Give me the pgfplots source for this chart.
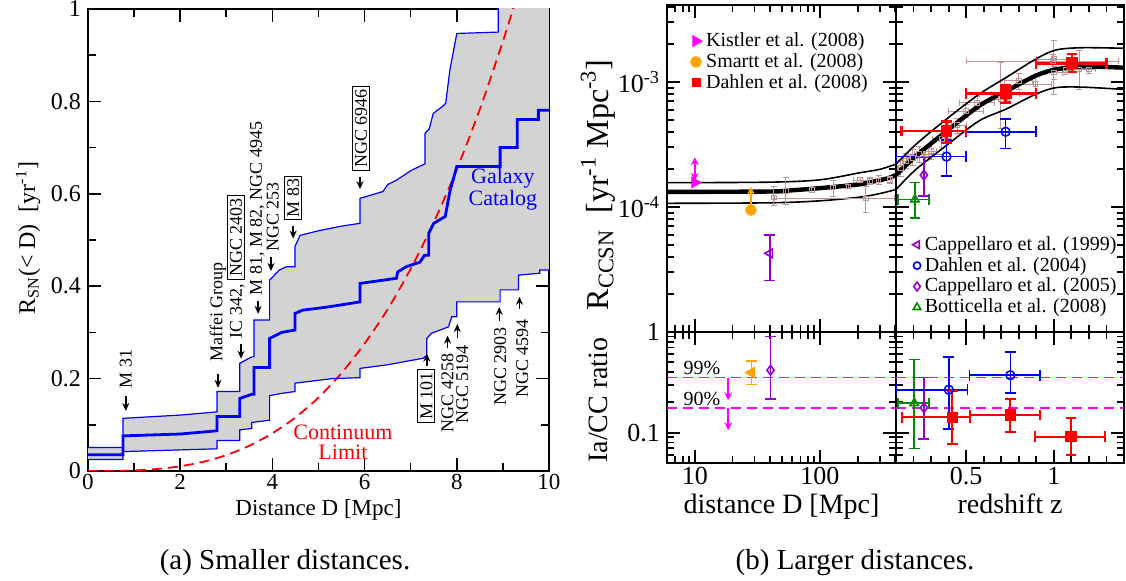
\documentclass[border=0pt]{standalone}
\usepackage{fontspec}
\setmainfont{Liberation Serif}
\usepackage{pgfplots}
\usepackage{pgfplotstable}
\pgfplotsset{compat=1.18}
\usetikzlibrary{arrows.meta}
\definecolor{sblue}{RGB}{0,0,255}
\definecolor{sred}{RGB}{255,0,0}
\definecolor{rb}{RGB}{190,148,148}
\definecolor{sorange}{RGB}{255,165,0}
\definecolor{smag}{RGB}{255,0,255}
\definecolor{spurp}{RGB}{148,0,211}
\definecolor{sgreen}{RGB}{0,139,0}
\definecolor{fillgray}{RGB}{211,211,211}
\setlength{\fboxsep}{1pt}
\setlength{\fboxrule}{0.5pt}
\newcommand{\ann}{\fontsize{9}{9}\selectfont}
\tikzset{arr/.style={-{Stealth[length=4pt,width=3.5pt]}, line width=0.7pt, black}}
\pgfplotsset{
  /pgf/number format/assume math mode=true,
  rp/.style={scale only axis, tick align=inside,
    major tick length=6.5pt, minor tick length=3.5pt,
    axis line style={line width=1.2pt},
    tick style={black, line width=0.9pt},
    ticklabel style={font=\fontsize{13}{13}\selectfont},
    xticklabel style={inner sep=1pt, yshift=-1pt},
    xtick pos=both, ytick pos=both},
  ebxy/.style={error bars/.cd, x dir=both, x explicit, y dir=both, y explicit,
    error bar style={line width=#1}, error mark options={rotate=90, mark size=2.7pt, line width=#1}},
  eby/.style={error bars/.cd, y dir=both, y explicit,
    error bar style={line width=#1}, error mark options={rotate=90, mark size=2.7pt, line width=#1}},
}
% ---------- left panel data ----------
\pgfplotstableread{
x y
0 0.051
0.76 0.051
0.76 0.114
2.0 0.121
2.8 0.128
2.8 0.172
3.29 0.172
3.29 0.233
3.55 0.247
3.6 0.247
3.6 0.327
3.94 0.327
3.94 0.413
4.15 0.435
4.3 0.442
4.49 0.442
4.49 0.486
4.6 0.51
5.0 0.52
5.5 0.53
5.9 0.536
5.9 0.59
6.4 0.605
6.5 0.62
6.7 0.63
7.0 0.65
7.31 0.665
7.31 0.731
7.4 0.74
7.49 0.774
7.7 0.79
7.76 0.796
7.85 0.868
8.0 0.947
8.9 0.95
8.9 1.05
10 1.1
}\tabUp
\pgfplotstableread{
x y
0 0.025
0.76 0.025
0.76 0.042
2.8 0.048
2.8 0.066
3.29 0.066
3.29 0.089
3.55 0.092
3.55 0.105
3.94 0.11
3.94 0.163
4.2 0.168
4.49 0.172
4.49 0.19
5.3 0.20
5.9 0.202
5.9 0.222
6.5 0.23
7.27 0.244
7.35 0.25
7.35 0.287
7.45 0.298
7.82 0.312
7.89 0.334
8.0 0.334
8.0 0.366
8.94 0.366
8.94 0.392
9.34 0.392
9.34 0.424
9.8 0.428
9.8 0.435
10 0.435
}\tabLo
\pgfplotstableread{
x y
0 0.035
0.76 0.035
0.76 0.076
2.0 0.080
2.8 0.087
2.8 0.118
3.29 0.118
3.29 0.157
3.55 0.166
3.6 0.166
3.6 0.224
3.94 0.224
3.94 0.287
4.2 0.300
4.49 0.305
4.49 0.341
4.65 0.348
5.2 0.355
5.9 0.366
5.9 0.406
6.69 0.417
6.72 0.431
6.9 0.442
7.2 0.452
7.3 0.467
7.39 0.467
7.39 0.514
7.5 0.536
7.75 0.551
7.85 0.605
8.0 0.659
8.94 0.659
8.94 0.700
9.31 0.700
9.31 0.761
9.77 0.761
9.77 0.781
10 0.781
}\tabMid
\begin{document}
\begin{tikzpicture}
\useasboundingbox (0,0) rectangle (563pt,290.5pt);
% ================= LEFT PANEL =================
\begin{axis}[
  at={(44pt,55pt)}, anchor=south west, scale only axis,
  width=230.5pt, height=231pt,
  xmin=0, xmax=10, ymin=0, ymax=1,
  xtick={0,2,4,6,8,10}, xticklabels={0,2,4,6,8,10},
  minor xtick={1,3,5,7,9},
  ytick={0,0.2,0.4,0.6,0.8,1}, yticklabels={0,0.2,0.4,0.6,0.8,1},
  minor ytick={0.1,0.3,0.5,0.7,0.9},
  tick align=inside, major tick length=6.5pt, minor tick length=3.8pt,
  axis line style={line width=1pt}, tick style={black, line width=0.8pt},
  ticklabel style={font=\fontsize{12}{12}\selectfont},
  xticklabel style={inner sep=1pt, yshift=-0.5pt, font=\fontsize{11.5}{11.5}\selectfont},
  xtick pos=both, ytick pos=both,
  xlabel={Distance D [Mpc]},
  xlabel style={at={([yshift=-22.5pt]axis description cs:0.5,0)}, anchor=base, inner sep=0pt, font=\fontsize{11.5}{11.5}\selectfont},
  ylabel={R\textsubscript{SN}(< D)\ \ [yr\textsuperscript{-1}]},
  ylabel style={at={([xshift=-30pt]axis description cs:0,0.504)}, anchor=center, font=\fontsize{12}{12}\selectfont},
]
\addplot[fill=fillgray, draw=none, forget plot] coordinates {
(0,0.051) (0.76,0.051) (0.76,0.114) (2.0,0.121) (2.8,0.128) (2.8,0.172) (3.29,0.172) (3.29,0.233)
(3.55,0.247) (3.6,0.247) (3.6,0.327) (3.94,0.327) (3.94,0.413) (4.15,0.435) (4.3,0.442) (4.49,0.442)
(4.49,0.486) (4.6,0.51) (5.0,0.52) (5.5,0.53) (5.9,0.536) (5.9,0.59) (6.4,0.605) (6.5,0.62) (6.7,0.63)
(7.0,0.65) (7.31,0.665) (7.31,0.731) (7.4,0.74) (7.49,0.774) (7.7,0.79) (7.76,0.796) (7.85,0.868)
(8.0,0.947) (8.9,0.95) (8.9,1.05) (10,1.1)
(10,0.435) (9.8,0.435) (9.8,0.428) (9.34,0.424) (9.34,0.392) (8.94,0.392) (8.94,0.366) (8.0,0.366)
(8.0,0.334) (7.89,0.334) (7.82,0.312) (7.45,0.298) (7.35,0.287) (7.35,0.25) (7.27,0.244) (6.5,0.23)
(5.9,0.222) (5.9,0.202) (5.3,0.20) (4.49,0.19) (4.49,0.172) (4.2,0.168) (3.94,0.163) (3.94,0.11)
(3.55,0.105) (3.55,0.092) (3.29,0.089) (3.29,0.066) (2.8,0.066) (2.8,0.048) (0.76,0.042) (0.76,0.025) (0,0.025)
} -- cycle;
\addplot[sred, line width=0.9pt, dash pattern=on 5pt off 3pt, smooth] coordinates {
 (0,0) (0.5,0.00016) (1,0.00128) (1.5,0.0043) (2,0.0102) (2.5,0.0199) (3,0.0344) (3.5,0.0547)
 (4,0.0816) (4.5,0.116) (5,0.159) (5.5,0.212) (6,0.276) (6.5,0.350) (7,0.4375) (7.5,0.538)
 (8,0.653) (8.5,0.783) (9,0.930) (9.22,1.0) (9.4,1.06)};
\addplot[sblue, line width=0.6pt] table {\tabUp};
\addplot[sblue, line width=0.6pt] table {\tabLo};
\addplot[sblue, line width=1.4pt] table {\tabMid};
% annotations (down arrows)
\node[rotate=90, anchor=west, inner sep=0pt, font=\ann] at (axis cs:0.82,0.178) {M 31};
\draw[arr] (axis cs:0.82,0.162) -- (axis cs:0.82,0.130);
\node[rotate=90, anchor=west, inner sep=0pt, font=\ann] at (axis cs:2.82,0.236) {Maffei Group};
\draw[arr] (axis cs:2.82,0.210) -- (axis cs:2.82,0.180);
\node[rotate=90, anchor=west, inner sep=0pt, font=\ann] at (axis cs:3.21,0.286) {IC 342, \fbox{NGC 2403}};
\draw[arr] (axis cs:3.32,0.275) -- (axis cs:3.32,0.243);
\node[rotate=90, anchor=west, inner sep=0pt, font=\ann] at (axis cs:3.67,0.379) {M 81, M 82, NGC 4945};
\draw[arr] (axis cs:3.69,0.368) -- (axis cs:3.69,0.340);
\node[rotate=90, anchor=west, inner sep=0pt, font=\ann] at (axis cs:4.01,0.474) {NGC 253};
\draw[arr] (axis cs:3.97,0.463) -- (axis cs:3.97,0.433);
\node[rotate=90, anchor=west, inner sep=0pt, font=\ann] at (axis cs:4.45,0.542) {\fbox{M 83}};
\draw[arr] (axis cs:4.45,0.530) -- (axis cs:4.45,0.503);
\node[rotate=90, anchor=west, inner sep=0pt, font=\ann] at (axis cs:5.92,0.649) {\fbox{NGC 6946}};
\draw[arr] (axis cs:5.9,0.637) -- (axis cs:5.9,0.610);
% up arrows
\node[rotate=90, anchor=east, inner sep=0pt, font=\ann] at (axis cs:7.34,0.221) {\fbox{M 101}};
\draw[arr] (axis cs:7.35,0.227) -- (axis cs:7.35,0.254);
\node[rotate=90, anchor=east, inner sep=0pt, font=\ann] at (axis cs:7.80,0.255) {NGC 4258};
\draw[arr] (axis cs:7.80,0.266) -- (axis cs:7.80,0.293);
\node[rotate=90, anchor=east, inner sep=0pt, font=\ann] at (axis cs:8.12,0.273) {NGC 5194};
\draw[arr] (axis cs:8.01,0.288) -- (axis cs:8.01,0.318);
\node[rotate=90, anchor=east, inner sep=0pt, font=\ann] at (axis cs:8.94,0.312) {NGC 2903};
\draw[arr] (axis cs:8.92,0.325) -- (axis cs:8.92,0.355);
\node[rotate=90, anchor=east, inner sep=0pt, font=\ann] at (axis cs:9.42,0.329) {NGC 4594};
\draw[arr] (axis cs:9.36,0.351) -- (axis cs:9.36,0.377);
\node[align=center, text=sblue, font=\fontsize{11}{10}\selectfont, inner sep=0pt] at (axis cs:9.0,0.61) {Galaxy\\Catalog};
\node[align=center, text=sred, font=\fontsize{11}{10}\selectfont, inner sep=0pt] at (axis cs:5.53,0.063) {Continuum\\Limit};
\end{axis}
% ================= RIGHT: top-left (distance) =================
\begin{axis}[rp, at={(333.5pt,124.5pt)}, anchor=south west, width=114.5pt, height=163.5pt,
  xmode=log, ymode=log, xmin=6, xmax=405, ymin=1e-5, ymax=4.13e-3,
  xtick={10,100}, xticklabels={},
  minor xtick={6,7,8,9,20,30,40,50,60,70,80,90,200,300,400},
  ytick={1e-5,1e-4,1e-3}, yticklabels={,10\textsuperscript{-4},10\textsuperscript{-3}},
  minor ytick={2e-5,3e-5,4e-5,5e-5,6e-5,7e-5,8e-5,9e-5,2e-4,3e-4,4e-4,5e-4,6e-4,7e-4,8e-4,9e-4,2e-3,3e-3,4e-3},
  ylabel={R\textsubscript{CCSN}\ \ [yr\textsuperscript{-1} Mpc\textsuperscript{-3}]},
  ylabel style={at={([xshift=-34.5pt]axis description cs:0,0.45)}, anchor=center, font=\fontsize{16}{16}\selectfont},
  legend style={at={(0.075,0.935)}, anchor=north west, draw=none, fill=none,
    font=\fontsize{10}{10}\selectfont, row sep=0pt, column sep=1pt, nodes={inner sep=1pt}},
  legend cell align=left,
  legend image code/.code={\draw[#1] plot coordinates {(0pt,0pt)};},
]
\addlegendimage{only marks, mark=triangle*, mark size=3.1pt, mark options={rotate=-90}, smag}
\addlegendentry{Kistler et al. (2008)}
\addlegendimage{only marks, mark=*, mark size=2.7pt, sorange}
\addlegendentry{Smartt et al. (2008)}
\addlegendimage{only marks, mark=square*, mark size=2pt, sred}
\addlegendentry{Dahlen et al. (2008)}
\addplot[black, line width=0.8pt, smooth, forget plot] coordinates {(6,1.565e-4) (40,1.58e-4) (100,1.65e-4) (209,1.88e-4) (300,2.0e-4) (405,2.2e-4)};
\addplot[black, line width=2.2pt, smooth, forget plot] coordinates {(6,1.32e-4) (40,1.33e-4) (60,1.36e-4) (113,1.43e-4) (209,1.52e-4) (282,1.62e-4) (350,1.7e-4) (405,1.8e-4)};
\addplot[black, line width=0.8pt, smooth, forget plot] coordinates {(6,1.07e-4) (40,1.08e-4) (100,1.12e-4) (209,1.2e-4) (300,1.28e-4) (405,1.38e-4)};
\addplot[rb, only marks, mark=square, mark size=1.2pt, line width=0.5pt, forget plot,
  error bars/.cd, y dir=both, y explicit, error bar style={line width=0.5pt},
  error mark options={rotate=90, mark size=1.5pt, line width=0.5pt}]
  table[x=x, y=y, y error plus=eyp, y error minus=eym]{
x y eyp eym
42.9 1.19e-4 0.28e-4 0.17e-4
53.4 1.34e-4 0.37e-4 0.29e-4
86 1.37e-4 0.06e-4 0.06e-4
128 1.43e-4 0.19e-4 0.21e-4
169 1.46e-4 0.06e-4 0.06e-4
251 1.62e-4 0.10e-4 0.10e-4
294 1.63e-4 0.15e-4 0.13e-4
363 1.64e-4 0.12e-4 0.10e-4
};
\addplot[rb, only marks, mark=square, mark size=1.2pt, line width=0.5pt, forget plot,
  error bars/.cd, x dir=both, x explicit, y dir=both, y explicit, error bar style={line width=0.5pt},
  error mark options={rotate=90, mark size=1.5pt, line width=0.5pt}]
  table[x=x, y=y, x error plus=exp, x error minus=exm, y error plus=eyp, y error minus=eym]{
x y exp exm eyp eym
209 1.64e-4 30 25 0.08e-4 0.08e-4
233 1.17e-4 160 190 0.30e-4 0.27e-4
};
% Kistler
\addplot[smag, only marks, mark=triangle*, mark size=3.1pt, mark options={rotate=-90}, forget plot] coordinates {(10,1.57e-4)};
\draw[smag, line width=0.8pt, {Stealth[length=4pt,width=4pt,open]}-{Stealth[length=4pt,width=4pt,open]}] (axis cs:10,1.62e-4) -- (axis cs:10,2.5e-4);
% Smartt
\addplot[sorange, only marks, mark=*, mark size=2.7pt, forget plot] coordinates {(28.1,9.46e-5)};
\draw[sorange, line width=0.8pt, -{Stealth[length=4pt,width=4pt,open]}] (axis cs:28.1,1.0e-4) -- (axis cs:28.1,1.45e-4);
% Cappellaro 1999
\addplot[spurp, only marks, mark=triangle, mark size=2.5pt, mark options={rotate=90}, line width=0.8pt, forget plot, eby=0.8pt]
  table[x=x, y=y, y error plus=eyp, y error minus=eym]{
x y eyp eym
39.8 4.26e-5 1.68e-5 1.67e-5
};
\end{axis}
% ================= RIGHT: top-right (redshift) =================
\begin{axis}[rp, at={(448pt,124.5pt)}, anchor=south west, width=114pt, height=163.5pt,
  ymode=log, xmin=0.1, xmax=1.4, ymin=1e-5, ymax=4.13e-3,
  xtick={0.5,1}, xticklabels={},
  minor xtick={0.2,0.3,0.4,0.6,0.7,0.8,0.9,1.1,1.2,1.3},
  ytick={1e-5,1e-4,1e-3}, yticklabels={},
  minor ytick={2e-5,3e-5,4e-5,5e-5,6e-5,7e-5,8e-5,9e-5,2e-4,3e-4,4e-4,5e-4,6e-4,7e-4,8e-4,9e-4,2e-3,3e-3,4e-3},
  legend style={at={(0.045,0.03)}, anchor=south west, draw=none, fill=none,
    font=\fontsize{10}{10}\selectfont, row sep=0pt, column sep=1pt, nodes={inner sep=1pt}},
  legend cell align=left,
  legend image code/.code={\draw[#1] plot coordinates {(0pt,0pt)};},
]
\addlegendimage{only marks, mark=triangle, mark size=2.2pt, mark options={rotate=90}, line width=0.8pt, spurp}
\addlegendentry{Cappellaro et al. (1999)}
\addlegendimage{only marks, mark=o, mark size=1.8pt, line width=0.8pt, sblue}
\addlegendentry{Dahlen et al. (2004)}
\addlegendimage{only marks, mark=diamond, mark size=2.2pt, line width=0.8pt, spurp}
\addlegendentry{Cappellaro et al. (2005)}
\addlegendimage{only marks, mark=triangle, mark size=2.2pt, line width=0.8pt, sgreen}
\addlegendentry{Botticella et al. (2008)}
\addplot[rb, only marks, mark=square, mark size=1.2pt, line width=0.5pt, forget plot,
  error bars/.cd, x dir=both, x explicit, y dir=both, y explicit, error bar style={line width=0.5pt},
  error mark options={rotate=90, mark size=1.5pt, line width=0.5pt}]
  table[x=x, y=y, x error plus=exp, x error minus=exm, y error plus=eyp, y error minus=eym]{
x y exp exm eyp eym
0.128 2.06e-4 0.02 0.02 0.3e-4 0.3e-4
0.157 2.33e-4 0.02 0.02 0.35e-4 0.3e-4
0.195 2.48e-4 0.03 0.03 0.4e-4 0.35e-4
0.233 2.64e-4 0.03 0.03 0.4e-4 0.35e-4
0.27 2.64e-4 0.1 0.1 0.3e-4 0.3e-4
0.30 2.8e-4 0.03 0.03 0.4e-4 0.4e-4
0.36 3.5e-4 0.05 0.05 0.5e-4 0.5e-4
0.45 4.5e-4 0.05 0.05 0.6e-4 0.6e-4
0.498 5.86e-4 0.1 0.1 0.7e-4 0.7e-4
0.564 6.83e-4 0.1 0.1 0.8e-4 0.8e-4
0.697 7.27e-4 0.05 0.05 7.0e-4 3.0e-4
0.725 7.97e-4 0.08 0.08 1e-4 1e-4
0.80 1.02e-3 0.08 0.08 1.5e-4 1.5e-4
0.895 9.6e-4 0.09 0.09 1.5e-4 1.5e-4
0.994 1.47e-3 0.376 0.494 0.2e-3 0.2e-3
1.0 1.52e-3 0.1 0.1 0.61e-3 0.72e-3
1.0 1.19e-3 0.05 0.05 0.15e-3 0.15e-3
1.066 1.24e-3 0.05 0.05 0.1e-3 0.1e-3
1.145 1.26e-3 0.05 0.05 0.51e-3 0.39e-3
1.2 1.26e-3 0.04 0.04 0.1e-3 0.1e-3
};
\addplot[black, line width=0.8pt, smooth, forget plot] coordinates {(0.1,2.2e-4) (0.214,3.17e-4) (0.384,5.0e-4) (0.573,7.97e-4) (0.725,1.08e-3) (0.895,1.52e-3) (1.01,1.8e-3) (1.16,1.88e-3) (1.41,1.86e-3)};
\addplot[black, line width=2.2pt, smooth, forget plot] coordinates {(0.1,1.8e-4) (0.214,2.56e-4) (0.384,4.0e-4) (0.573,6.43e-4) (0.725,8.4e-4) (0.895,1.12e-3) (1.01,1.26e-3) (1.16,1.33e-3) (1.41,1.30e-3)};
\addplot[black, line width=0.8pt, smooth, forget plot] coordinates {(0.1,1.38e-4) (0.214,2.0e-4) (0.384,3.08e-4) (0.573,4.88e-4) (0.725,6.05e-4) (0.895,7.97e-4) (1.01,9.0e-4) (1.16,9.1e-4) (1.41,8.7e-4)};
% Botticella 2008
\addplot[sgreen, only marks, mark=triangle, mark size=2.4pt, line width=0.8pt, forget plot, ebxy=0.8pt]
  table[x=x, y=y, x error plus=exp, x error minus=exm, y error plus=eyp, y error minus=eym]{
x y exp exm eyp eym
0.208 1.15e-4 0.08 0.096 0.42e-4 0.33e-4
};
% Cappellaro 2005
\addplot[spurp, only marks, mark=diamond, mark size=2.4pt, line width=0.8pt, forget plot, eby=0.8pt]
  table[x=x, y=y, y error plus=eyp, y error minus=eym]{
x y eyp eym
0.259 1.8e-4 0.68e-4 0.58e-4
};
% Dahlen 2004
\addplot[sblue, only marks, mark=o, mark size=2.2pt, line width=0.8pt, forget plot, ebxy=0.8pt]
  table[x=x, y=y, x error plus=exp, x error minus=exm, y error plus=eyp, y error minus=eym]{
x y exp exm eyp eym
0.388 2.53e-4 0.11 0.288 0.89e-4 0.76e-4
0.725 4.0e-4 0.174 0.227 1.03e-4 1.07e-4
};
% Dahlen 2008
\addplot[sred, only marks, mark=square*, mark size=2.3pt, line width=1.3pt, forget plot, ebxy=1.3pt]
  table[x=x, y=y, x error plus=exp, x error minus=exm, y error plus=eyp, y error minus=eym]{
x y exp exm eyp eym
0.388 4.06e-4 0.11 0.256 0.75e-4 0.79e-4
0.725 8.12e-4 0.174 0.227 1.28e-4 1.29e-4
1.104 1.41e-3 0.196 0.205 0.26e-3 0.21e-3
};
\end{axis}
% ================= RIGHT: ratio-left =================
\begin{axis}[rp, at={(333.5pt,59pt)}, anchor=south west, width=114.5pt, height=65.5pt,
  xmode=log, ymode=log, xmin=6, xmax=405, ymin=0.05, ymax=1,
  xtick={10,100}, xticklabels={10,100},
  minor xtick={6,7,8,9,20,30,40,50,60,70,80,90,200,300,400},
  ytick={0.1,1}, yticklabels={0.1,1},
  minor ytick={0.05,0.06,0.07,0.08,0.09,0.2,0.3,0.4,0.5,0.6,0.7,0.8,0.9},
  xlabel={distance D [Mpc]},
  xlabel style={at={([yshift=-25.4pt]axis description cs:0.5,0)}, anchor=base, inner sep=0pt, font=\fontsize{14}{14}\selectfont},
  ylabel={Ia/CC ratio},
  ylabel style={at={([xshift=-34.5pt]axis description cs:0,0.48)}, anchor=center, font=\fontsize{14}{14}\selectfont},
]
\addplot[smag, line width=0.75pt, dash pattern=on 5pt off 3pt] coordinates {(6,0.352) (405,0.352)};
\addplot[smag, line width=0.75pt, dash pattern=on 5pt off 3pt] coordinates {(6,0.175) (405,0.175)};
\node[anchor=south, inner sep=1pt, font=\fontsize{10}{10}\selectfont] at (axis cs:11.4,0.352) {99\%};
\node[anchor=south, inner sep=1pt, font=\fontsize{10}{10}\selectfont] at (axis cs:11.4,0.175) {90\%};
\draw[smag, line width=0.8pt, -{Stealth[length=4pt,width=4pt,open]}] (axis cs:18.5,0.352) -- (axis cs:18.5,0.21);
\draw[smag, line width=0.8pt, -{Stealth[length=4pt,width=4pt,open]}] (axis cs:18.5,0.175) -- (axis cs:18.5,0.106);
\addplot[sorange, only marks, mark=triangle*, mark size=2.8pt, mark options={rotate=90}, line width=0.8pt, eby=0.8pt]
  table[x=x, y=y, y error plus=eyp, y error minus=eym]{
x y eyp eym
28.4 0.395 0.121 0.093
};
\addplot[spurp, only marks, mark=diamond, mark size=2.4pt, line width=0.8pt, eby=0.8pt]
  table[x=x, y=y, y error plus=eyp, y error minus=eym]{
x y eyp eym
40.3 0.417 0.481 0.20
};
\end{axis}
% ================= RIGHT: ratio-right =================
\begin{axis}[rp, at={(448pt,59pt)}, anchor=south west, width=114pt, height=65.5pt,
  ymode=log, xmin=0.1, xmax=1.4, ymin=0.05, ymax=1,
  xtick={0.5,1}, xticklabels={0.5,1},
  minor xtick={0.2,0.3,0.4,0.6,0.7,0.8,0.9,1.1,1.2,1.3},
  ytick={0.1,1}, yticklabels={},
  minor ytick={0.05,0.06,0.07,0.08,0.09,0.2,0.3,0.4,0.5,0.6,0.7,0.8,0.9},
  xlabel={redshift z},
  xlabel style={at={([yshift=-25.4pt]axis description cs:0.5,0)}, anchor=base, inner sep=0pt, font=\fontsize{14}{14}\selectfont},
]
\addplot[smag, line width=0.75pt, dash pattern=on 5pt off 3pt] coordinates {(0.1,0.352) (1.4,0.352)};
\addplot[smag, line width=0.75pt, dash pattern=on 5pt off 3pt] coordinates {(0.1,0.175) (1.4,0.175)};
\addplot[sgreen, only marks, mark=triangle, mark size=2.4pt, line width=0.8pt, ebxy=0.8pt]
  table[x=x, y=y, x error plus=exp, x error minus=exm, y error plus=eyp, y error minus=eym]{
x y exp exm eyp eym
0.204 0.196 0.084 0.092 0.337 0.1265
};
\addplot[spurp, only marks, mark=diamond, mark size=2.4pt, line width=0.8pt, eby=0.8pt]
  table[x=x, y=y, y error plus=eyp, y error minus=eym]{
x y eyp eym
0.259 0.177 0.175 0.091
};
\addplot[sblue, only marks, mark=o, mark size=2.2pt, line width=0.8pt, ebxy=0.8pt]
  table[x=x, y=y, x error plus=exp, x error minus=exm, y error plus=eyp, y error minus=eym]{
x y exp exm eyp eym
0.401 0.267 0.107 0.301 0.299 0.158
0.752 0.372 0.168 0.234 0.264 0.125
};
\addplot[sred, only marks, mark=square*, mark size=2.3pt, line width=1.0pt, ebxy=1.0pt]
  table[x=x, y=y, x error plus=exp, x error minus=exm, y error plus=eyp, y error minus=eym]{
x y exp exm eyp eym
0.42 0.142 0.104 0.288 0.117 0.064
0.752 0.150 0.168 0.228 0.067 0.048
1.098 0.0912 0.195 0.208 0.0488 0.0309
};
\end{axis}
% captions
\node[anchor=base, font=\fontsize{14.5}{14.5}\selectfont, inner sep=0pt] at (142.5pt,5.5pt) {(a) Smaller distances.};
\node[anchor=base, font=\fontsize{14.5}{14.5}\selectfont, inner sep=0pt] at (427.5pt,5.5pt) {(b) Larger distances.};
\end{tikzpicture}
\end{document}
